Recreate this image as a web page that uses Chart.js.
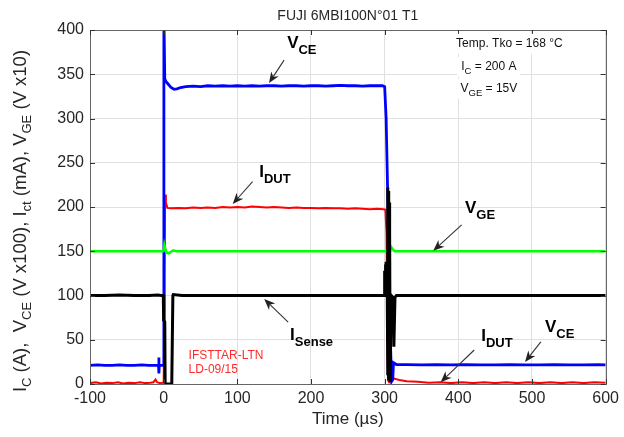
<!DOCTYPE html>
<html><head><meta charset="utf-8">
<script src="https://cdn.jsdelivr.net/npm/chart.js@4.4.1/dist/chart.umd.min.js"></script>
<style>html,body{margin:0;padding:0;background:#fff;}canvas{display:block;}</style>
</head><body>
<canvas id="c" width="624" height="437"></canvas>
<script>
// ---------------- DATA ----------------
const chartTitle = 'FUJI 6MBI100N°01 T1';
const xTickValues = [-100, 0, 100, 200, 300, 400, 500, 600];
const yTickValues = [0, 50, 100, 150, 200, 250, 300, 350, 400];

// [time (µs), value]
const seriesISense = [[-100,100],[-80,100],[-60,100.5],[-40,100],[-20,100],[-8,100.5],[-3,100],[-0.5,100],[0,72],[1.5,70],[2,0],[11,0],[12.5,100],[13,101],[25,100],[50,100],[75,100],[100,100],[125,100],[150,100],[175,100],[200,100],[225,100],[250,100],[275,100],[299.5,100],[300,128],[300.5,103],[301,135],[301.5,104],[302,138],[302.5,105],[303,132],[303.5,101],[304,222],[304.5,10],[305,218],[305.5,4],[306,205],[306.5,6],[307,170],[307.5,4],[308,90],[309,100],[311,98],[312.5,42],[314,98],[316,100],[350,100],[375,100],[400,100],[425,100],[450,100],[475,100],[500,100],[525,100],[550,100],[575,100],[600,100]];

const seriesVGE = [[-100,150],[-50,150],[-1,150],[0,150.5],[1,157],[2.5,152],[4,148],[7,147.5],[10,149.5],[13,151],[17,150],[50,150],[100,150],[150,150],[200,150],[250,150],[300,150],[307,150],[308.5,155],[311,152],[314,150],[350,150],[400,150],[450,150],[500,150],[550,150],[600,150]];

const seriesVCE = [[-100,21],[-90,21.5],[-80,21],[-70,21],[-60,21.5],[-50,21],[-40,21],[-30,21.5],[-20,21],[-12,21],[-7,21],[-6.5,30],[-6.4,12],[-6,21],[-2,21],[-0.5,21],[0.3,420],[1.5,345],[3,342],[6,339],[10,335],[14,333],[18,333.5],[23,335],[30,336],[40,336.5],[50,336],[60,337],[70,336.5],[80,337],[90,336.5],[100,337],[110,336.5],[120,337],[130,336.5],[140,337],[150,337],[160,336.5],[170,337],[180,337],[190,336.5],[200,337],[210,337],[220,336.5],[230,337],[240,337.5],[250,337],[260,337],[270,336.5],[280,337],[290,337],[297,337],[300,336],[302,300],[304,220],[306,130],[308,40],[309.5,3],[311,5],[312,24],[316,22],[330,22],[350,21.5],[370,22],[390,21.5],[410,22],[430,21.5],[450,21.5],[470,22],[490,21.5],[510,21.5],[530,22],[550,21.5],[570,21.5],[590,22],[600,21.5]];

const seriesIDUT = [[-100,1],[-92,2],[-85,0.5],[-78,1.5],[-70,1],[-62,2],[-55,0.5],[-48,1.5],[-40,1],[-32,2],[-25,1],[-18,1.5],[-14,2],[-11,5],[-9,2],[-5,1],[-1,1.5],[0,2],[0.8,60],[1.3,125],[2,214],[3,205],[5,199],[10,198.5],[20,199],[30,198.5],[40,199.5],[50,199],[60,199.5],[70,199],[80,200],[90,199.5],[100,200],[110,199.5],[120,200.5],[130,200],[140,199.5],[150,200],[160,199.5],[170,199],[180,199.5],[190,199],[200,199],[210,198.5],[220,199],[230,198.5],[240,198.5],[250,198],[260,198.5],[270,198],[280,197.5],[290,198],[298,197.5],[301,197],[302.5,170],[303.5,60],[304.5,5],[306,2],[307,12],[309,9],[313,6],[320,4.5],[330,3],[345,2.5],[360,1.5],[375,2],[390,1],[405,2],[420,1],[435,2],[450,1],[465,2],[480,1],[495,2],[510,1],[525,2],[540,1],[555,2],[570,1],[585,2],[600,1.5]];

// annotation texts (anchors in data units)
const annotations = [
  {main:'V', sub:'CE', at:[167.6,379.7], from:[163.5,366], to:[143,340]},
  {main:'I', sub:'DUT', at:[129.7,234], from:[120.7,228.6], to:[93.7,203.4]},
  {main:'V', sub:'GE', at:[409,192.9], from:[404.5,179.7], to:[366,150.6]},
  {main:'I', sub:'Sense', at:[171.6,49.7], from:[169,70], to:[136.5,96]},
  {main:'I', sub:'DUT', at:[431,48.6], from:[421.6,38.4], to:[376,2]},
  {main:'V', sub:'CE', at:[517.6,58.8], from:[512,47.5], to:[490.5,25]}
];
const infoLines = [
  {parts:[['Temp. Tko = 168 °C',false]], at:[397,381]},
  {parts:[['I',false],['C',true],[' = 200 A',false]], at:[404,355]},
  {parts:[['V',false],['GE',true],[' = 15V',false]], at:[403,330]}
];
const stampLines = [
  {text:'IFSTTAR-LTN', at:[33.8,28]},
  {text:'LD-09/15', at:[33.8,12.5]}
];
const yTitleParts = [['I',false],['C',true],[' (A),  V',false],['CE',true],[' (V x100), I',false],['ct',true],[' (mA), V',false],['GE',true],[' (V x10)',false]];
const xTitle = 'Time (µs)';

// ---------------- RENDER ----------------
const FONT = '"Liberation Sans", Arial, Helvetica, sans-serif';
const TXT = '#262626';
const toXY = s => s.map(([x, y]) => ({x, y}));

function drawRich(ctx, parts, x, y, mainFont, subFont, subDy, align) {
  let w = 0;
  parts.forEach(([t, s]) => { ctx.font = s ? subFont : mainFont; w += ctx.measureText(t).width; });
  let cx = align === 'center' ? x - w / 2 : x;
  ctx.textAlign = 'left';
  ctx.textBaseline = 'alphabetic';
  parts.forEach(([t, s]) => {
    ctx.font = s ? subFont : mainFont;
    ctx.fillText(t, cx, s ? y + subDy : y);
    cx += ctx.measureText(t).width;
  });
  return w;
}

function arrow(ctx, x1, y1, x2, y2) {
  const a = Math.atan2(y2 - y1, x2 - x1);
  const L = 11, W = 4.5;
  ctx.save();
  ctx.strokeStyle = '#333'; ctx.fillStyle = '#222'; ctx.lineWidth = 1.1;
  ctx.beginPath();
  ctx.moveTo(x1, y1);
  ctx.lineTo(x2 - Math.cos(a) * L * 0.7, y2 - Math.sin(a) * L * 0.7);
  ctx.stroke();
  ctx.beginPath();
  ctx.moveTo(x2, y2);
  ctx.lineTo(x2 - Math.cos(a) * L - Math.sin(a) * W, y2 - Math.sin(a) * L + Math.cos(a) * W);
  ctx.lineTo(x2 - Math.cos(a) * L * 0.7, y2 - Math.sin(a) * L * 0.7);
  ctx.lineTo(x2 - Math.cos(a) * L + Math.sin(a) * W, y2 - Math.sin(a) * L - Math.cos(a) * W);
  ctx.closePath();
  ctx.fill();
  ctx.restore();
}

const decorPlugin = {
  id: 'decor',
  afterDatasetsDraw(chart) {
    const ctx = chart.ctx;
    const {left, right, top, bottom} = chart.chartArea;
    const xs = chart.scales.x, ys = chart.scales.y;
    const px = v => xs.getPixelForValue(v), py = v => ys.getPixelForValue(v);
    ctx.save();
    // frame
    ctx.strokeStyle = '#666'; ctx.lineWidth = 1;
    ctx.strokeRect(Math.round(left) + 0.5, Math.round(top) + 0.5, Math.round(right - left), Math.round(bottom - top));
    // inner ticks
    ctx.strokeStyle = '#333';
    ctx.beginPath();
    xTickValues.forEach(v => {
      const x = Math.round(px(v)) + 0.5;
      ctx.moveTo(x, bottom); ctx.lineTo(x, bottom - 5);
      ctx.moveTo(x, top); ctx.lineTo(x, top + 5);
    });
    yTickValues.forEach(v => {
      const y = Math.round(py(v)) + 0.5;
      ctx.moveTo(left, y); ctx.lineTo(left + 5, y);
      ctx.moveTo(right, y); ctx.lineTo(right - 5, y);
    });
    ctx.stroke();

    // title
    ctx.fillStyle = TXT;
    ctx.font = '14px ' + FONT;
    ctx.textAlign = 'center'; ctx.textBaseline = 'alphabetic';
    ctx.fillText(chartTitle, (left + right) / 2, 20);
    // x title
    ctx.font = '17px ' + FONT;
    ctx.fillText(xTitle, (left + right) / 2, 424);
    // y title
    ctx.save();
    ctx.translate(26, (top + bottom) / 2 + 14);
    ctx.rotate(-Math.PI / 2);
    drawRich(ctx, yTitleParts, 0, 0, '18.5px ' + FONT, '13px ' + FONT, 5, 'center');
    ctx.restore();

    // info text with white boxes
    infoLines.forEach(l => {
      const x = px(l.at[0]), y = py(l.at[1]);
      let w = 0;
      l.parts.forEach(([t, s]) => { ctx.font = (s ? '9px ' : '12px ') + FONT; w += ctx.measureText(t).width; });
      ctx.fillStyle = '#fff';
      ctx.fillRect(x - 4, y - 13, w + 8, 20);
    });
    ctx.fillStyle = '#111';
    infoLines.forEach(l => {
      drawRich(ctx, l.parts, px(l.at[0]), py(l.at[1]), '12px ' + FONT, '9.5px ' + FONT, 4, 'left');
    });

    // stamp
    ctx.fillStyle = '#ff2a2a';
    ctx.font = '12px ' + FONT;
    ctx.textAlign = 'left';
    stampLines.forEach(s => ctx.fillText(s.text, px(s.at[0]), py(s.at[1])));

    // annotations
    annotations.forEach(a => {
      arrow(ctx, px(a.from[0]), py(a.from[1]), px(a.to[0]), py(a.to[1]));
      ctx.fillStyle = '#000';
      drawRich(ctx, [[a.main, false], [a.sub, true]], px(a.at[0]), py(a.at[1]), 'bold 17px ' + FONT, 'bold 13px ' + FONT, 6, 'left');
    });
    ctx.restore();
  }
};

const ds = (label, data, color, w) => ({
  label, data: toXY(data), borderColor: color, backgroundColor: color,
  borderWidth: w, pointRadius: 0, showLine: true, tension: 0, fill: false
});

new Chart(document.getElementById('c'), {
  type: 'scatter',
  data: {
    datasets: [
      ds('ISense', seriesISense, '#000000', 3),
      ds('VGE', seriesVGE, '#00ff00', 2.5),
      ds('VCE', seriesVCE, '#0000ff', 2.8),
      ds('IDUT', seriesIDUT, '#ff0000', 2)
    ]
  },
  options: {
    responsive: false, animation: false, events: [],
    layout: {padding: {top: 30, right: 17, left: 0, bottom: 0}},
    plugins: {legend: {display: false}, tooltip: {enabled: false}, title: {display: false}},
    scales: {
      x: {
        type: 'linear', min: -100, max: 600,
        afterBuildTicks: s => { s.ticks = xTickValues.map(v => ({value: v})); },
        afterFit: s => { s.height = 53; },
        ticks: {color: TXT, font: {size: 16, family: FONT}, padding: 5, maxRotation: 0},
        grid: {color: '#e0e0e0', drawTicks: false},
        border: {display: false}
      },
      y: {
        type: 'linear', min: 0, max: 400,
        afterBuildTicks: s => { s.ticks = yTickValues.map(v => ({value: v})); },
        afterFit: s => { s.width = 90; },
        ticks: {color: TXT, font: {size: 16, family: FONT}, padding: 6},
        grid: {color: '#e0e0e0', drawTicks: false},
        border: {display: false}
      }
    }
  },
  plugins: [decorPlugin]
});
</script>
</body></html>
